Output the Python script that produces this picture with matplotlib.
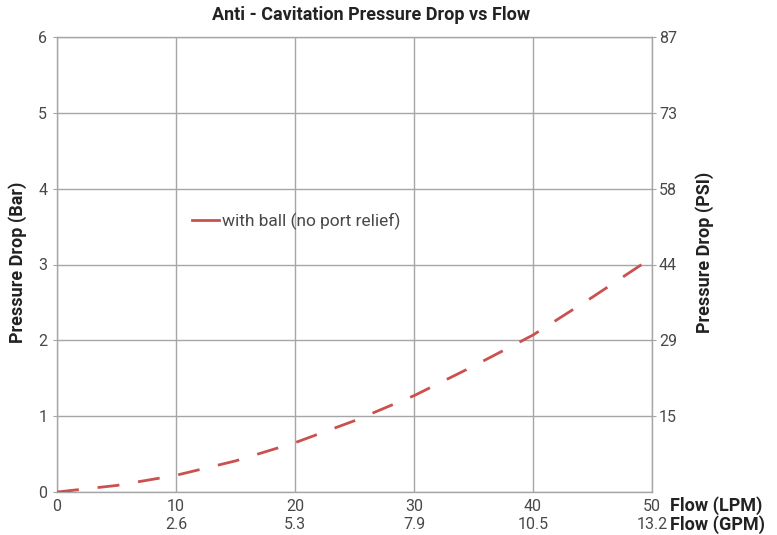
import matplotlib
matplotlib.use("Agg")
import matplotlib.pyplot as plt
from matplotlib.lines import Line2D

flow_lpm = [0, 5, 10, 15, 20, 25, 30, 35, 40, 45, 50]
drop_bar = [0, 0.086, 0.22, 0.41, 0.65, 0.94, 1.27, 1.66, 2.07, 2.57, 3.09]

x_ticks = [0, 10, 20, 30, 40, 50]
gpm_labels = ["", "2.6", "5.3", "7.9", "10.5", "13.2"]
bar_ticks = [0, 1, 2, 3, 4, 5, 6]
psi_ticks = [1, 2, 3, 4, 5, 6]
psi_labels = ["15", "29", "44", "58", "73", "87"]
series_label = "with ball (no port relief)"

plt.rcParams["font.family"] = ["Roboto", "DejaVu Sans"]

RED = "#c9514f"
GRID = "#a6a6a6"
TXT = "#484848"
BOLD = "#222222"
TICKFS = 11.5
BOLDFS = 13

fig = plt.figure(figsize=(7.77, 5.35), dpi=100)
ax = fig.add_axes([57/777, 1-492/535, 595/777, 455/535])
ax.plot(flow_lpm, drop_bar, color=RED, lw=2.0, dashes=(7.9, 6.8), zorder=3)
ax.set_xlim(0, 50)
ax.set_ylim(0, 6)
ax.set_xticks(x_ticks)
ax.set_xticklabels([f"{x}\n{g}" for x, g in zip(x_ticks, gpm_labels)], fontsize=TICKFS,
                   color=TXT, linespacing=1.26)
ax.set_yticks(bar_ticks)
ax.set_yticklabels([str(v) for v in bar_ticks], fontsize=TICKFS, color=TXT)
ax.tick_params(axis="x", length=0, pad=5)
ax.tick_params(axis="y", length=3, color=GRID, pad=4)
ax.grid(True, color=GRID, lw=1.0)
for s in ax.spines.values():
    s.set_color(GRID)
    s.set_linewidth(1.0)

ax2 = ax.twinx()
ax2.set_ylim(0, 6)
ax2.set_yticks(psi_ticks)
ax2.set_yticklabels(psi_labels, fontsize=TICKFS, color=TXT)
ax2.tick_params(axis="y", length=3, color=GRID, pad=2)
for s in ax2.spines.values():
    s.set_visible(False)

fig.text(371/777, 1-15/535, "Anti - Cavitation Pressure Drop vs Flow", ha="center", va="center",
         fontsize=BOLDFS, fontweight="bold", color=BOLD)

fig.text(18/777, 1-262/535, "Pressure Drop (Bar)", rotation=90, ha="center", va="center",
         fontsize=BOLDFS, fontweight="bold", color=BOLD)
fig.text(705/777, 1-252/535, "Pressure Drop (PSI)", rotation=90, ha="center", va="center",
         fontsize=BOLDFS, fontweight="bold", color=BOLD)
fig.text(670/777, 1-506/535, "Flow (LPM)", ha="left", va="center", fontsize=BOLDFS, fontweight="bold", color=BOLD)
fig.text(670/777, 1-525/535, "Flow (GPM)", ha="left", va="center", fontsize=BOLDFS, fontweight="bold", color=BOLD)

handle = Line2D([], [], color=RED, lw=2.0)
leg = ax.legend([handle], [series_label], loc="center left", bbox_to_anchor=((192-57)/595, (492-221)/455),
                frameon=False, prop={"size": 12.5}, handlelength=1.55,
                handletextpad=0.15, borderpad=0, borderaxespad=0)
for t in leg.get_texts():
    t.set_color(TXT)

fig.savefig("out.png", dpi=100)
